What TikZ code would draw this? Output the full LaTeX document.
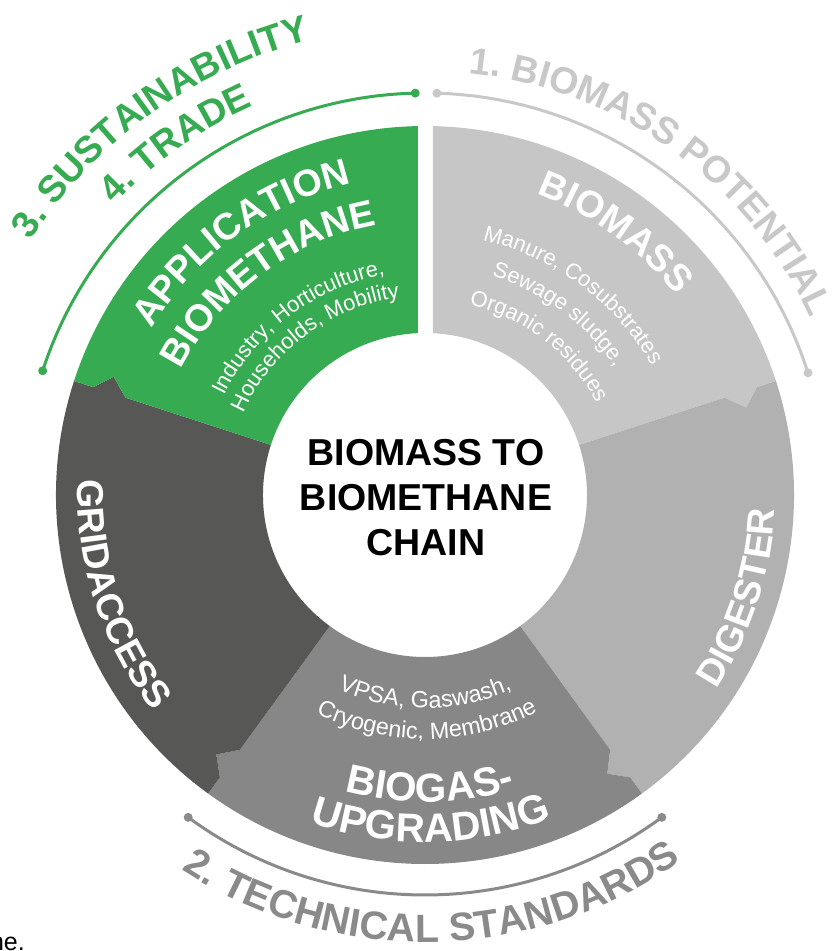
\documentclass[tikz,border=0pt]{standalone}
\usepackage{fontspec}
\setmainfont{Liberation Sans}
\usetikzlibrary{decorations.text}
\definecolor{cgreen}{HTML}{37AB52}
\definecolor{cbiomass}{HTML}{C6C6C6}
\definecolor{cdigest}{HTML}{B1B1B1}
\definecolor{cupgrade}{HTML}{878787}
\definecolor{cgrid}{HTML}{575756}
\definecolor{clabelone}{HTML}{C8C8C8}
\definecolor{clabeltwo}{HTML}{8A8A8A}
\newcommand\fBig{\fontsize{37.5}{45}\selectfont\bfseries}
\newcommand\fBigB{\fontsize{40.5}{45}\selectfont\bfseries}
\newcommand\fBigT{\fontsize{39.5}{45}\selectfont\bfseries}
\newcommand\fSmall{\fontsize{22}{25}\selectfont}
\newcommand\fSmallB{\fontsize{23.4}{26}\selectfont}
\newcommand\ringseg[3]{\fill[#1] (#2:162pt) -- (#2:315pt) -- ({#2-2.8}:333pt) -- (#2:349pt) -- (#2:369pt) arc[start angle=#2, end angle=#3, radius=369pt] -- (#3:349pt) -- ({#3-2.8}:333pt) -- (#3:315pt) -- (#3:162pt) arc[start angle=#3, end angle=#2, radius=162pt] -- cycle;}
\newcommand\cwtext[5]{\path[decorate,decoration={text along path,text align=center,text color=#1,text={|#2|#5}}] ({#4+45}:#3pt) arc[start angle={#4+45}, end angle={#4-45}, radius=#3pt];}
\newcommand\ccwtext[5]{\path[decorate,decoration={text along path,text align=center,text color=#1,text={|#2|#5}}] ({#4-45}:#3pt) arc[start angle={#4-45}, end angle={#4+45}, radius=#3pt];}
\tikzset{arcline/.style={line width=3pt}, centertext/.style={font=\fBig, anchor=base, inner sep=0pt}}
\begin{document}
\begin{tikzpicture}
\useasboundingbox (-425pt,-456pt) rectangle (408pt,495pt);
% ring segments
\fill[cbiomass] (87.17:162pt) -- (88.76:369pt) arc[start angle=88.76, end angle=18, radius=369pt] -- (18:349pt) -- (15.2:333pt) -- (18:315pt) -- (18:162pt) arc[start angle=18, end angle=87.17, radius=162pt] -- cycle;
\ringseg{cdigest}{18}{-54}
\ringseg{cupgrade}{-54}{-126}
\ringseg{cgrid}{-126}{-198}
\fill[cgreen] (162:162pt) -- (162:315pt) -- (159.2:333pt) -- (162:349pt) -- (162:369pt) arc[start angle=162, end angle=91.09, radius=369pt] -- (92.48:162pt) arc[start angle=92.48, end angle=162, radius=162pt] -- cycle;
% segment labels
\cwtext{white}{\fBig}{321}{54}{BIOMASS}
\cwtext{white}{\fSmall}{261}{53.5}{Manure, Cosubstrates}
\cwtext{white}{\fSmall}{229}{53.5}{Sewage sludge,}
\cwtext{white}{\fSmall}{195}{52.5}{Organic residues}
\ccwtext{white}{\fBig}{350}{-18}{DIGESTER}
\ccwtext{white}{\fSmallB}{213}{-90}{VPSA, Gaswash,}
\ccwtext{white}{\fSmallB}{244}{-89.5}{Cryogenic, Membrane}
\ccwtext{white}{\fBigB}{307}{-89}{BIOGAS-}
\ccwtext{white}{\fBigB}{347}{-89}{UPGRADING}
\ccwtext{white}{\fBig}{347}{198}{GRIDACCESS}
\cwtext{white}{\fBig}{320}{126}{APPLICATION}
\cwtext{white}{\fBig}{274}{126.5}{BIOMETHANE}
\cwtext{white}{\fSmall}{224}{127}{Industry, Horticulture,}
\cwtext{white}{\fSmall}{199}{126.5}{Households, Mobility}
% centre
\node[centertext] (c1) at (1pt,30pt) {BIOMASS TO};
\node[centertext] (c2) at (1pt,-15pt) {BIOMETHANE};
\node[centertext] (c3) at (1pt,-60pt) {CHAIN};
% outer arcs
\coordinate (pa1) at (88.3:402pt); \coordinate (pa2) at (17.7:402pt);
\draw[arcline, clabelone] (pa1) arc[start angle=88.3, end angle=17.7, radius=402pt];
\fill[clabelone] (pa1) circle (4.5pt) (pa2) circle (4.5pt);
\coordinate (pg1) at (91.4:402pt); \coordinate (pg2) at (162:402pt);
\draw[arcline, cgreen] (pg1) arc[start angle=91.4, end angle=162, radius=402pt];
\fill[cgreen] (pg1) circle (4.5pt) (pg2) circle (4.5pt);
\coordinate (pb1) at (-126.3:400pt); \coordinate (pb2) at (-53.7:400pt);
\draw[arcline, clabeltwo] (pb1) arc[start angle=-126.3, end angle=-53.7, radius=400pt];
\fill[clabeltwo] (pb1) circle (4.5pt) (pb2) circle (4.5pt);
% outer labels
\cwtext{clabelone}{\fBig}{424}{54.4}{1. BIOMASS POTENTIAL}
\ccwtext{clabeltwo}{\fBigT}{447}{-89}{2. TECHNICAL STANDARDS}
\cwtext{cgreen}{\fBig}{469}{125.7}{3. SUSTAINABILITY}
\cwtext{cgreen}{\fBig}{425}{125.3}{4. TRADE}
% cropped caption fragment
\node[font=\fontsize{25}{28}\selectfont, anchor=base east, inner sep=0pt] (cap) at (-400pt,-455pt) {ne.};
\end{tikzpicture}
\end{document}
